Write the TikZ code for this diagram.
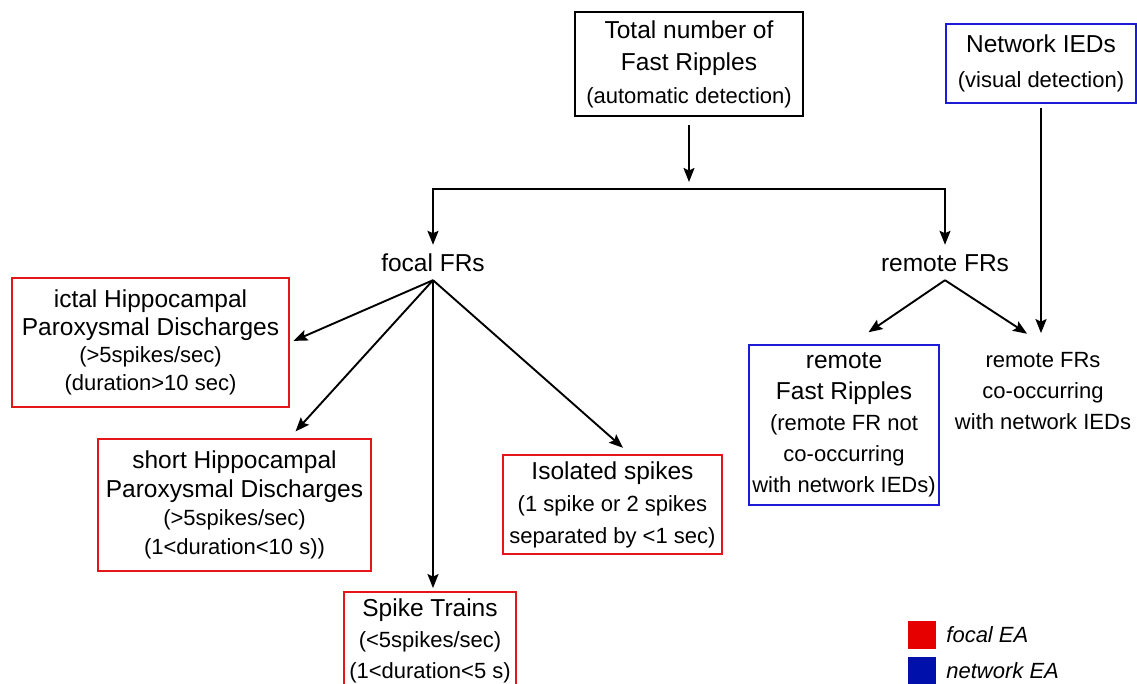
\documentclass[tikz,border=0pt]{standalone}
\usepackage{fontspec}
\setmainfont{Liberation Sans}
\usetikzlibrary{arrows.meta,calc}
\definecolor{focalred}{RGB}{228,22,26}
\definecolor{netblue}{RGB}{28,28,216}
\definecolor{legred}{RGB}{230,0,0}
\definecolor{legblue}{RGB}{0,16,170}
\newcommand\LG{\fontsize{24.5}{\baselineskip}\selectfont}
\newcommand\SM{\fontsize{22}{\baselineskip}\selectfont}
\begin{document}
\begin{tikzpicture}[x=1pt,y=-1pt,
  box/.style={draw,line width=1.8pt,align=center,inner sep=0pt},
  redbox/.style={box,draw=focalred},
  bluebox/.style={box,draw=netblue},
  blackbox/.style={box,draw=black},
  lbl/.style={align=center,inner sep=0pt},
  split/.style={lbl,font=\LG,text height=18pt,text depth=0pt,inner ysep=8.5pt},
  arr/.style={line width=1.9pt,-{Stealth[length=14pt,width=11pt,inset=2.5pt]}},
  ln/.style={line width=1.9pt},
  legsq/.style={minimum size=28pt,inner sep=0pt},
  legtxt/.style={anchor=west,inner sep=0pt,xshift=10pt,font=\fontsize{22}{26}\selectfont\itshape}
]
\useasboundingbox (0,0) rectangle (1137,684);
% top boxes
\node[blackbox,minimum width=228pt,minimum height=104pt,font=\fontsize{22}{32.5}\selectfont] (total) at (689,64)
  {\LG Total number of\\ \LG Fast Ripples\\ \SM (automatic detection)};
\node[bluebox,minimum width=190pt,minimum height=79pt,font=\fontsize{22}{35}\selectfont] (netied) at (1041,63.5)
  {\LG Network IEDs\\ \SM (visual detection)};
% split labels
\node[split] (focal) at (433,262.5) {focal FRs};
\node[split] (remote) at (945,262.5) {remote FRs};
\coordinate (tj) at (689,189);
% focal EA boxes
\node[redbox,minimum width=277pt,minimum height=129pt,font=\fontsize{22}{27.5}\selectfont] (ictal) at (150.5,342.5)
  {\LG ictal Hippocampal\\ \LG Paroxysmal Discharges\\ \SM (>5spikes/sec)\\ \SM (duration>10 sec)};
\node[redbox,minimum width=273pt,minimum height=132pt,font=\fontsize{22}{28.5}\selectfont] (short) at (234.5,505)
  {\LG short Hippocampal\\ \LG Paroxysmal Discharges\\ \SM (>5spikes/sec)\\ \SM (1<duration<10 s))};
\node[redbox,minimum width=172pt,minimum height=98pt,font=\fontsize{22}{31}\selectfont] (trains) at (430,641)
  {\LG Spike Trains\\ \SM (<5spikes/sec)\\ \SM (1<duration<5 s)};
\node[redbox,minimum width=219pt,minimum height=99pt,font=\fontsize{22}{32}\selectfont] (isolated) at (612.5,504.5)
  {\LG Isolated spikes\\ \SM (1 spike or 2 spikes\\ \SM separated by <1 sec)};
% network EA boxes
\node[bluebox,minimum width=190pt,minimum height=160pt,font=\fontsize{22}{31}\selectfont] (rfr) at (844,425)
  {\LG remote\\ \LG Fast Ripples\\ \SM (remote FR not\\ \SM co-occurring\\ \SM with network IEDs)};
\node[lbl,inner ysep=8pt,font=\fontsize{22}{31}\selectfont] (cooc) at (1043,391)
  {\SM remote FRs\\ \SM co-occurring\\ \SM with network IEDs};
% connectors
\draw[arr,shorten <=8pt,shorten >=7pt] (total) -- (tj);
\draw[arr] (tj) -| (focal);
\draw[arr] (tj) -| (remote);
\draw[arr,shorten >=4pt] (focal.south) -- (ictal.east);
\draw[arr,shorten >=9pt] (focal.south) -- ($(short.north)!0.4!(short.north east)$);
\draw[arr,shorten >=3pt] (focal.south) -- (focal.south |- trains.north);
\draw[arr,shorten >=9.5pt] (focal.south) -- ($(isolated.north)!0.16!(isolated.north east)$);
\draw[arr,shorten >=21pt] (remote.south) -- ($(rfr.north)!0.074!(rfr.north east)$);
\draw[arr,shorten >=19pt] (remote.south) -- (cooc.north);
\draw[arr,shorten <=4pt,shorten >=11pt] (netied.south) -- (netied.south |- cooc.north);
% legend
\node[legsq,fill=legred] (lr) at (922,634.5) {};
\node[legsq,fill=legblue] (lb) at (922,671) {};
\node[legtxt] (lrt) at (lr.east) {focal EA};
\node[legtxt] (lbt) at (lb.east) {network EA};
\end{tikzpicture}
\end{document}
